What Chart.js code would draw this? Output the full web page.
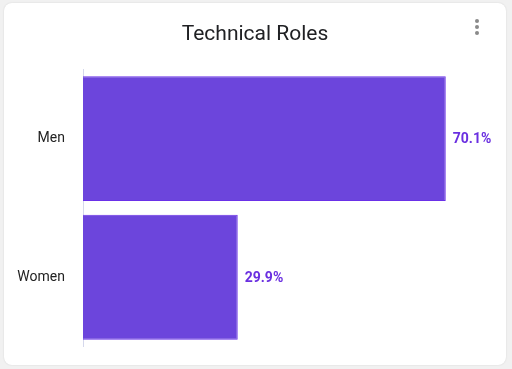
<!DOCTYPE html>
<html>
<head>
<meta charset="utf-8">
<script src="https://cdn.jsdelivr.net/npm/chart.js@4"></script>
<style>
  html, body { margin:0; padding:0; background:#f1f1f1; width:512px; height:369px; overflow:hidden; }
  #card { position:absolute; left:4px; top:3px; width:502px; height:362px; background:#fff; border-radius:8px; box-shadow:0 0 2px rgba(0,0,0,0.12); }
  #wrap { position:absolute; left:0; top:0; width:502px; height:362px; }
  .dot { position:absolute; left:471px; width:4px; height:4px; border-radius:2px; background:#8a8a8a; }
</style>
</head>
<body>
<div id="card">
  <div id="wrap"><canvas id="c" width="502" height="362"></canvas></div>
  <div class="dot" style="top:16px"></div>
  <div class="dot" style="top:22px"></div>
  <div class="dot" style="top:28px"></div>
</div>
<script>
const categories = ["Men", "Women"];
const shares = [70.1, 29.9];
const valueLabels = ["70.1%", "29.9%"];
const chartTitle = "Technical Roles";

const labelPlugin = {
  id: 'valueLabels',
  afterDatasetsDraw(chart) {
    const ctx = chart.ctx;
    const meta = chart.getDatasetMeta(0);
    ctx.save();
    ctx.font = 'bold 14px Roboto';
    ctx.fillStyle = '#6a2fe0';
    ctx.textAlign = 'left';
    ctx.textBaseline = 'middle';
    meta.data.forEach((bar, i) => {
      ctx.fillText(valueLabels[i], bar.x + 7, bar.y + 1);
    });
    ctx.restore();
  }
};

new Chart(document.getElementById('c'), {
  type: 'bar',
  data: {
    labels: categories,
    datasets: [{
      data: shares,
      backgroundColor: '#6c45dc',
      borderColor: '#6a30e8',
      borderWidth: 1,
      categoryPercentage: 0.9,
      barPercentage: 1.0
    }]
  },
  options: {
    indexAxis: 'y',
    responsive: false,
    animation: false,
    layout: { padding: { left: 9, right: 9, top: 0, bottom: 9 } },
    plugins: {
      legend: { display: false },
      tooltip: { enabled: false },
      title: {
        display: true,
        text: chartTitle,
        color: '#202124',
        font: { family: 'Roboto', size: 21, weight: 'normal' },
        padding: { top: 19, bottom: 22 }
      }
    },
    scales: {
      x: { display: false, min: 0, max: 80 },
      y: {
        grid: { display: false },
        border: { display: true, color: '#d5d8ec', width: 1 },
        ticks: { color: '#222', font: { family: 'Roboto', size: 14 }, padding: 10 },
        afterFit(scale) { scale.width = 70; }
      }
    }
  },
  plugins: [labelPlugin]
});
</script>
</body>
</html>
